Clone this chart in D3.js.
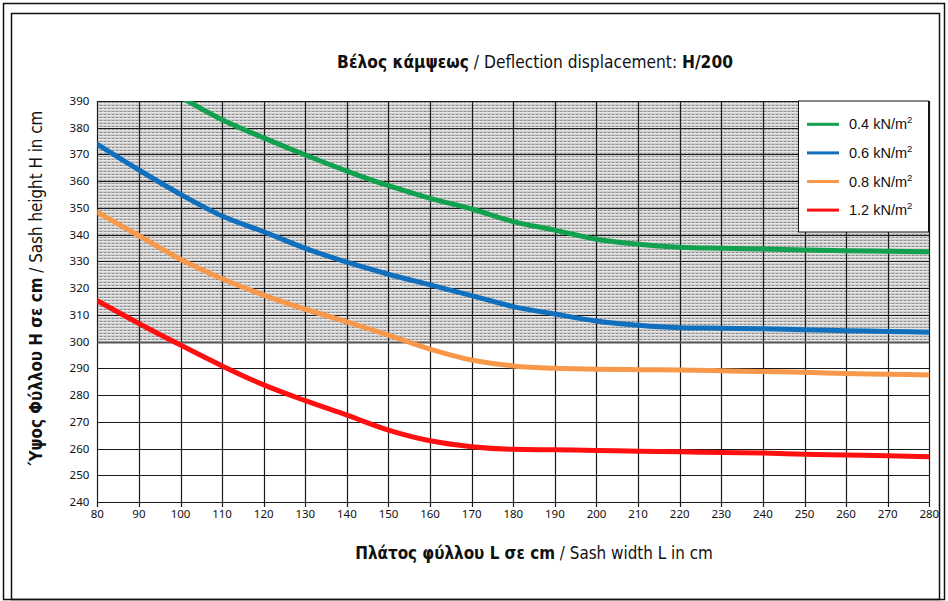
<!DOCTYPE html>
<html>
<head>
<meta charset="utf-8">
<script src="https://cdn.jsdelivr.net/npm/d3@7"></script>
<style>
  body { margin: 0; background: #fff; }
  svg { display: block; }
</style>
</head>
<body>
<script>
var WIDTH = 948, HEIGHT = 601;

// values
var widths = [80, 90, 100, 110, 120, 130, 140, 150, 160, 170, 180, 190, 200, 210, 220, 230, 240, 250, 260, 270, 280];
var load04 = [null, null, 391.5, 383, 376.2, 369.8, 363.8, 358.3, 353.6, 349.6, 344.9, 341.7, 338.3, 336.4, 335.3, 334.9, 334.6, 334.3, 334.0, 333.8, 333.6];
var load06 = [373.8, 364.2, 355.1, 347.0, 341.1, 334.9, 329.7, 325.2, 321.2, 317.2, 313.1, 310.3, 307.7, 306.1, 305.2, 305.0, 304.8, 304.4, 304.1, 303.8, 303.5];
var load08 = [348.4, 339.6, 330.8, 323.5, 317.4, 312.1, 307.4, 302.4, 297.2, 293.1, 290.9, 290.0, 289.7, 289.5, 289.4, 289.1, 288.8, 288.5, 288.1, 287.8, 287.5];
var load12 = [315.3, 306.8, 298.7, 290.9, 283.8, 277.9, 272.5, 266.9, 262.9, 260.7, 259.7, 259.5, 259.3, 259.0, 258.8, 258.5, 258.3, 257.9, 257.6, 257.3, 256.9];
var seriesNames = ['0.4 kN/m', '0.6 kN/m', '0.8 kN/m', '1.2 kN/m'];
var seriesColors = ['#12a24f', '#1170bd', '#f7984a', '#ff1010'];
var xTicks = d3.range(80, 281, 10);
var yTicks = d3.range(240, 391, 10);
var zoneStart = 300;

var svg = d3.select('body').append('svg').attr('width', WIDTH).attr('height', HEIGHT);

// double frame
svg.append('rect').attr('x', 3.5).attr('y', 3.5).attr('width', 941).attr('height', 596)
    .attr('fill', 'none').attr('stroke', '#111').attr('stroke-width', 1.5);
svg.append('rect').attr('x', 11.5).attr('y', 13.5).attr('width', 928).attr('height', 586)
    .attr('fill', 'none').attr('stroke', '#111').attr('stroke-width', 1.5);

var x = d3.scaleLinear().domain([80, 280]).range([97.3, 929.3]);
var y = d3.scaleLinear().domain([240, 390]).range([502, 101]);

var defs = svg.append('defs');
var pat = defs.append('pattern').attr('id', 'hatch').attr('patternUnits', 'userSpaceOnUse')
    .attr('width', 4).attr('height', 3);
pat.append('rect').attr('width', 4).attr('height', 3).attr('fill', '#e6e6e6');
pat.append('rect').attr('x', 0).attr('y', 0).attr('width', 2).attr('height', 1).attr('fill', '#8c8c8c');
pat.append('rect').attr('x', 2).attr('y', 0).attr('width', 2).attr('height', 1).attr('fill', '#bcbcbc');
pat.append('rect').attr('x', 0).attr('y', 2).attr('width', 4).attr('height', 1).attr('fill', '#d0d0d0');

defs.append('clipPath').attr('id', 'plotClip').append('rect')
    .attr('x', x(80)).attr('y', y(390)).attr('width', x(280) - x(80)).attr('height', y(240) - y(390));

// hatched zone
svg.append('rect')
    .attr('x', x(80)).attr('y', y(390))
    .attr('width', x(280) - x(80)).attr('height', y(zoneStart) - y(390))
    .attr('fill', 'url(#hatch)');

// grid
svg.append('g').selectAll('line').data(xTicks).enter().append('line')
    .attr('x1', d => Math.round(x(d)) + 0.5).attr('x2', d => Math.round(x(d)) + 0.5)
    .attr('y1', y(390)).attr('y2', y(240) + 5)
    .attr('stroke', '#1a1a1a').attr('stroke-width', 1.2);
svg.append('g').selectAll('line').data(yTicks).enter().append('line')
    .attr('x1', x(80)).attr('x2', x(280))
    .attr('y1', d => Math.round(y(d)) + 0.5).attr('y2', d => Math.round(y(d)) + 0.5)
    .attr('stroke', d => d === zoneStart ? '#555' : '#1a1a1a').attr('stroke-width', d => d === zoneStart ? 1.8 : 1.2);

// axis labels
var tickFont = '"Noto Sans", "Open Sans", sans-serif';
svg.append('g').selectAll('text').data(xTicks).enter().append('text')
    .attr('x', d => x(d)).attr('y', y(240) + 16)
    .attr('text-anchor', 'middle').attr('font-family', tickFont).attr('font-size', 11.5)
    .attr('fill', '#111').text(d => d);
svg.append('g').selectAll('text').data(yTicks).enter().append('text')
    .attr('x', x(80) - 8).attr('y', d => y(d) + 4)
    .attr('text-anchor', 'end').attr('font-family', tickFont).attr('font-size', 11.5)
    .attr('fill', '#111').text(d => d);

// curves
var allSeries = [load04, load06, load08, load12];
var line = d3.line()
    .defined(d => d[1] !== null)
    .x(d => x(d[0])).y(d => y(d[1]))
    .curve(d3.curveMonotoneX);
svg.append('g').attr('clip-path', 'url(#plotClip)').selectAll('path')
    .data(allSeries).enter().append('path')
    .attr('d', s => line(widths.map((w, i) => [w, s[i]])))
    .attr('fill', 'none')
    .attr('stroke', (s, i) => seriesColors[i])
    .attr('stroke-width', 5)
    .attr('stroke-linecap', 'round');

// legend
var legend = svg.append('g');
legend.append('rect').attr('x', 798.5).attr('y', 101).attr('width', 130).attr('height', 131)
    .attr('fill', '#fff').attr('stroke', '#111').attr('stroke-width', 1);
var item = legend.selectAll('g').data(seriesNames).enter().append('g')
    .attr('transform', (d, i) => 'translate(0,' + (124.3 + i * 28.6) + ')');
item.append('line').attr('x1', 807).attr('x2', 839).attr('y1', 0).attr('y2', 0)
    .attr('stroke', (d, i) => seriesColors[i]).attr('stroke-width', 3);
var lt = item.append('text').attr('x', 849).attr('y', 5)
    .attr('font-family', '"Liberation Sans", Arial, sans-serif').attr('font-size', 14.5).attr('fill', '#111');
lt.append('tspan').text(d => d);
lt.append('tspan').attr('dy', -6).attr('font-size', 9.5).text('2');

// titles, scaled to the widths they take in the original
var titleFont = '"DejaVu Sans Condensed", "Open Sans", sans-serif';
function fit(sel, target) {
    var size = +sel.attr('font-size');
    var len = sel.node().getComputedTextLength();
    sel.attr('font-size', size * target / len);
}

var title = svg.append('text').attr('x', 535).attr('y', 68).attr('text-anchor', 'middle')
    .attr('font-family', titleFont).attr('font-size', 16).attr('fill', '#111');
title.append('tspan').attr('font-weight', 'bold').text('Βέλος κάμψεως');
title.append('tspan').text(' / Deflection displacement: ');
title.append('tspan').attr('font-weight', 'bold').text('H/200');
fit(title, 396);

var xTitle = svg.append('text').attr('x', 534).attr('y', 559).attr('text-anchor', 'middle')
    .attr('font-family', titleFont).attr('font-size', 16).attr('fill', '#111');
xTitle.append('tspan').attr('font-weight', 'bold').text('Πλάτος φύλλου L σε cm');
xTitle.append('tspan').text(' / Sash width L in cm');
fit(xTitle, 358);

var yTitle = svg.append('text').attr('transform', 'translate(42,288) rotate(-90)').attr('text-anchor', 'middle')
    .attr('font-family', titleFont).attr('font-size', 15).attr('fill', '#111');
yTitle.append('tspan').attr('font-weight', 'bold').text('Ύψος Φύλλου Η σε cm');
yTitle.append('tspan').text(' / Sash height H in cm');
fit(yTitle, 355);
</script>
</body>
</html>
